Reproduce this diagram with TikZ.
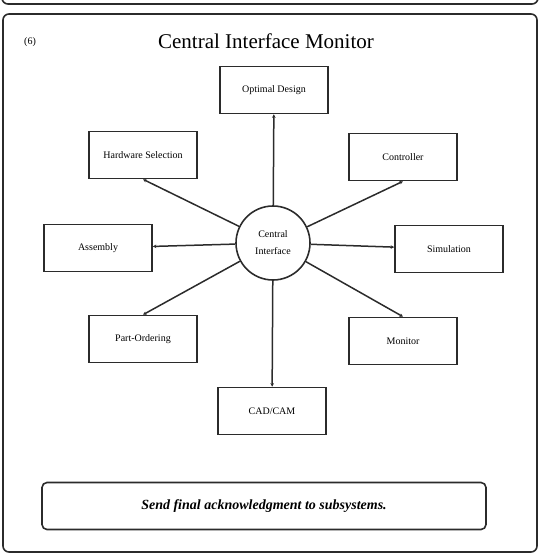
\documentclass[tikz,border=0pt]{standalone}
\usepackage{fontspec}
\setmainfont{Liberation Serif}
\usetikzlibrary{calc,positioning,arrows.meta}
\definecolor{ink}{HTML}{2B2B2B}
\tikzset{
  frame/.style={draw=ink,line width=1.6pt,rounded corners=6pt},
  sysbox/.style={draw=ink,line width=1.6pt,fill=white,minimum width=108pt,minimum height=47pt,inner sep=0pt,font=\fontsize{10}{12}\selectfont},
  hub/.style={circle,draw=ink,line width=1.6pt,fill=white,minimum size=74pt,inner sep=0pt,align=center,font=\fontsize{10}{17}\selectfont},
  link/.style={-{Stealth[length=3.5pt,width=3.5pt]},draw=ink,line width=1.5pt},
}

\begin{document}
\begin{tikzpicture}[x=1pt,y=-1pt]
\useasboundingbox (0,0) rectangle (540,555);
\clip (0,0) rectangle (540,555);
% frames
\draw[frame] (2,-40) rectangle (538,4);
\draw[frame] (3,14) rectangle (537,552);
\node[font=\fontsize{10}{12}\selectfont] (num) at (30,42) {(6)};
\node[font=\fontsize{21}{23}\selectfont] (title) at (266,41) {Central Interface Monitor};
% hub and subsystems
\node[hub] (ci) at (273,243) {Central\\Interface};
\node[sysbox] (od) at (274,90) {Optimal Design};
\node[sysbox] (hw) at (143,155) {Hardware Selection};
\node[sysbox] (ctl) at (403,157) {Controller};
\node[sysbox] (asm) at (98,248) {Assembly};
\node[sysbox] (sim) at (449,249) {Simulation};
\node[sysbox] (po) at (143,339) {Part-Ordering};
\node[sysbox] (mon) at (403,341) {Monitor};
\node[sysbox] (cad) at (272,411) {CAD/CAM};
\draw[link] (ci) -- (od);
\draw[link] (ci) -- (hw.south);
\draw[link] (ci) -- (ctl.south);
\draw[link] (ci) -- (asm);
\draw[link] (ci) -- (sim);
\draw[link] (ci) -- (po.north);
\draw[link] (ci) -- (mon.north);
\draw[link] (ci) -- (cad);
% note
\node[draw=ink,line width=1.6pt,rounded corners=5pt,minimum width=444pt,minimum height=47pt,font=\fontsize{14}{16}\selectfont\bfseries\itshape] (ack) at (264,506) {Send final acknowledgment to subsystems.};
\end{tikzpicture}
\end{document}
